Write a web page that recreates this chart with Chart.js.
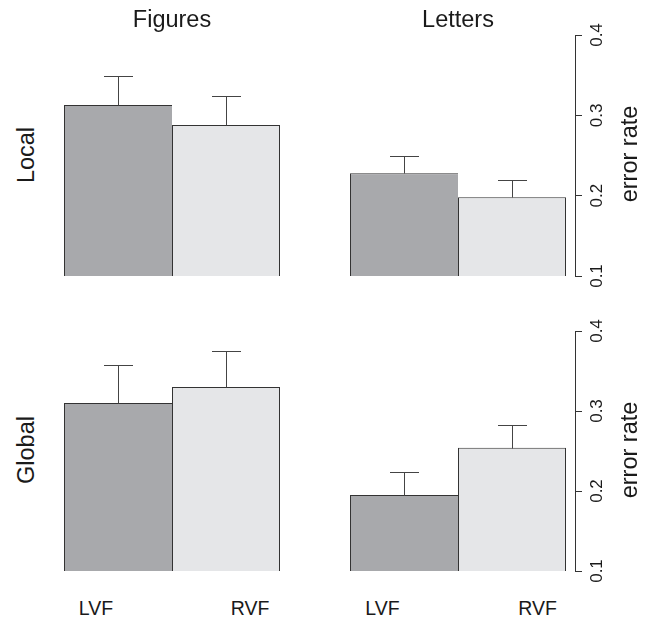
<!DOCTYPE html>
<html><head><meta charset="utf-8">
<script src="https://cdn.jsdelivr.net/npm/chart.js@4/dist/chart.umd.min.js"></script>
<style>
html,body{margin:0;padding:0;background:#fff;}
body{width:648px;height:620px;position:relative;overflow:hidden;font-family:"Liberation Sans",Arial,sans-serif;color:#1a1a1a;}
canvas{position:absolute;}
.t{position:absolute;white-space:nowrap;line-height:1;font-size:23.5px;}
.h{transform:translateX(-50%);}
.r{transform:translate(-50%,-50%) rotate(-90deg);}
.g{font-size:19.5px;}
</style></head><body>
<canvas id="c1"></canvas><canvas id="c2"></canvas><canvas id="c3"></canvas><canvas id="c4"></canvas>
<div class="t h" id="tFig" style="left:172px;top:8px;"></div>
<div class="t h" id="tLet" style="left:458px;top:8px;"></div>
<div class="t r" id="tLoc" style="left:26.5px;top:154.5px;"></div>
<div class="t r" id="tGlo" style="left:26.5px;top:450px;"></div>
<div class="t r" id="tY1" style="left:630px;top:154px;"></div>
<div class="t r" id="tY2" style="left:630px;top:450px;"></div>
<div class="t h g" id="g1" style="left:96px;top:598.5px;"></div>
<div class="t h g" id="g2" style="left:250px;top:598.5px;"></div>
<div class="t h g" id="g3" style="left:382.5px;top:598.5px;"></div>
<div class="t h g" id="g4" style="left:537.5px;top:598.5px;"></div>
<script>
const groups = ['LVF', 'RVF'];
const conditions = ['Figures', 'Letters'];
const levels = ['Local', 'Global'];
const figuresLocal = [0.313, 0.288];
const figuresLocalSE = [0.036, 0.036];
const lettersLocal = [0.228, 0.198];
const lettersLocalSE = [0.022, 0.022];
const figuresGlobal = [0.310, 0.330];
const figuresGlobalSE = [0.047, 0.045];
const lettersGlobal = [0.195, 0.254];
const lettersGlobalSE = [0.029, 0.029];
const tickValues = [0.1, 0.2, 0.3, 0.4];
const yLabel = 'error rate';

const fills = ['#a8a9ac', '#e5e6e8'];
const FONT = '"Liberation Sans", Arial, sans-serif';

document.getElementById('tFig').textContent = conditions[0];
document.getElementById('tLet').textContent = conditions[1];
document.getElementById('tLoc').textContent = levels[0];
document.getElementById('tGlo').textContent = levels[1];
document.getElementById('tY1').textContent = yLabel;
document.getElementById('tY2').textContent = yLabel;
['g1','g2','g3','g4'].forEach((id, i) => document.getElementById(id).textContent = groups[i % 2]);

const errorBars = {
  id: 'errorBars',
  afterDatasetsDraw(chart) {
    const ctx = chart.ctx, ys = chart.scales.y;
    ctx.save();
    ctx.strokeStyle = '#444';
    ctx.lineWidth = 1;
    chart.data.datasets.forEach((ds, i) => {
      const el = chart.getDatasetMeta(i).data[0];
      const x = Math.round(el.x) + 0.5;
      const top = Math.round(el.y) + 0.5;
      const e = Math.round(ys.getPixelForValue(ds.data[0] + ds.se[0])) + 0.5;
      ctx.beginPath();
      ctx.moveTo(x, top); ctx.lineTo(x, e);
      ctx.moveTo(x - 14.5, e); ctx.lineTo(x + 14.5, e);
      ctx.stroke();
    });
    ctx.restore();
  }
};

function panel(id, vals, se, areaLeft, areaTop, areaH, showAxis) {
  const PAD = 14, AXW = 50, AREAW = 234;
  const c = document.getElementById(id);
  const w = AREAW + (showAxis ? AXW : 0), h = areaH + 2 * PAD;
  c.width = w; c.height = h;
  c.style.left = areaLeft + 'px'; c.style.top = (areaTop - PAD) + 'px';
  c.style.width = w + 'px'; c.style.height = h + 'px';
  new Chart(c, {
    type: 'bar',
    data: {
      labels: [''],
      datasets: groups.map((g, i) => ({
        label: g, data: [vals[i]], se: [se[i]],
        backgroundColor: fills[i], borderColor: '#333',
        borderWidth: i === 0 ? {top: 1, left: 1, right: 0, bottom: 0} : {top: 1, left: 1, right: 1, bottom: 0},
        borderSkipped: false,
        categoryPercentage: 216 / 234, barPercentage: 1
      }))
    },
    options: {
      responsive: false, animation: false, devicePixelRatio: 1,
      layout: {padding: {top: PAD, bottom: PAD, left: 0, right: 0}},
      plugins: {legend: {display: false}, tooltip: {enabled: false}},
      scales: {
        x: {display: false},
        y: {
          display: showAxis, position: 'right', min: 0.1, max: 0.4,
          afterBuildTicks: s => { s.ticks = tickValues.map(v => ({value: v})); },
          afterFit: s => {
            s.width = showAxis ? AXW : 0; s.paddingTop = 0; s.paddingBottom = 0;
          },
          grid: {drawOnChartArea: false, tickLength: 7, color: '#333', lineWidth: 1},
          border: {display: true, color: '#333', width: 1},
          ticks: {
            minRotation: 90, maxRotation: 90, crossAlign: 'center', padding: 3, autoSkip: false,
            color: '#1a1a1a', font: {family: FONT, size: 17},
            callback: v => Number(v).toFixed(1)
          }
        }
      }
    },
    plugins: [errorBars]
  });
}

panel('c1', figuresLocal, figuresLocalSE, 55, 35, 241, false);
panel('c2', lettersLocal, lettersLocalSE, 341, 35, 241, true);
panel('c3', figuresGlobal, figuresGlobalSE, 55, 331, 240, false);
panel('c4', lettersGlobal, lettersGlobalSE, 341, 331, 240, true);
</script>
</body></html>
